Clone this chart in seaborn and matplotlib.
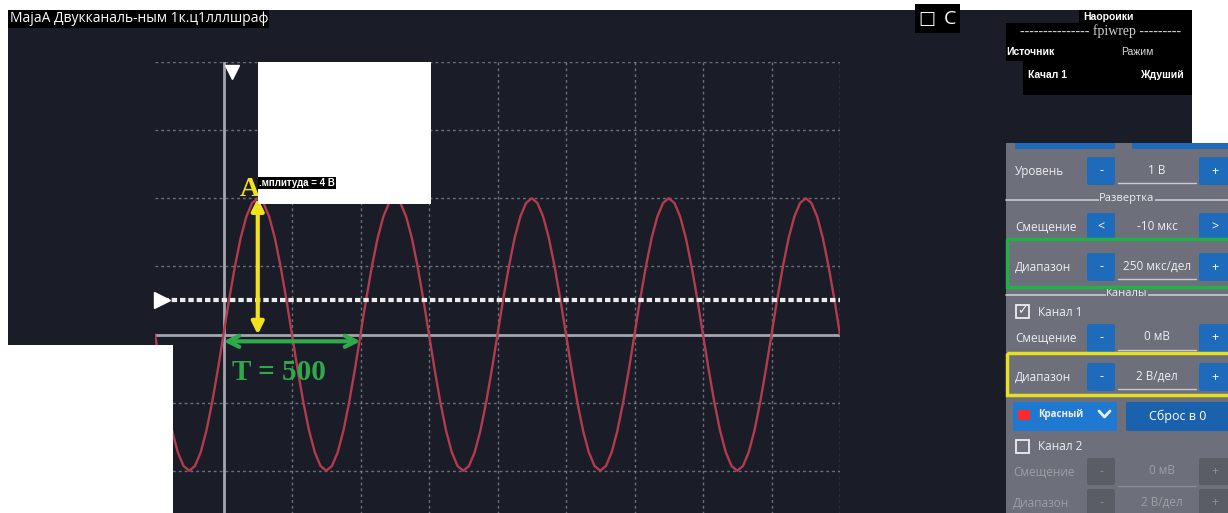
import numpy as np
import pandas as pd
import seaborn as sns
import matplotlib.pyplot as plt
from matplotlib.patches import Rectangle, FancyBboxPatch

W, H = 1228, 513

# channel 1 trace, one sample every 1/24 of a period, volts
samples_per_period = 24
trace_start_us = -250
ch1_volts = [
    0.0, -1.04, -2.0, -2.83, -3.46, -3.86, -4.0, -3.86, -3.46, -2.83, -2.0, -1.04,
    0.0, 1.04, 2.0, 2.83, 3.46, 3.86, 4.0, 3.86, 3.46, 2.83, 2.0, 1.04,
    0.0, -1.04, -2.0, -2.83, -3.46, -3.86, -4.0, -3.86, -3.46, -2.83, -2.0, -1.04,
    0.0, 1.04, 2.0, 2.83, 3.46, 3.86, 4.0, 3.86, 3.46, 2.83, 2.0, 1.04,
    0.0, -1.04, -2.0, -2.83, -3.46, -3.86, -4.0, -3.86, -3.46, -2.83, -2.0, -1.04,
    0.0, 1.04, 2.0, 2.83, 3.46, 3.86, 4.0, 3.86, 3.46, 2.83, 2.0, 1.04,
    0.0, -1.04, -2.0, -2.83, -3.46, -3.86, -4.0, -3.86, -3.46, -2.83, -2.0, -1.04,
    0.0, 1.04, 2.0, 2.83, 3.46, 3.86, 4.0, 3.86, 3.46, 2.83, 2.0, 1.04,
    0.0, -1.04, -2.0, -2.83, -3.46, -3.86, -4.0, -3.86, -3.46, -2.83, -2.0, -1.04,
    0.0, 1.04, 2.0, 2.83, 3.46, 3.86, 4.0, 3.86, 3.46, 2.83, 2.0, 1.04,
    0.0,
]

us_per_div = 250
volts_per_div = 2
trigger_level_v = 1
trigger_pos_us = 30
amplitude_v = 4
period_us = 500

title_text = "MajaA Двукканаль-ным 1к.ц1лллшраф"
amp_label = ".мплитуда = 4 В"
period_label = "T = 500"

# settings panel rows: label, left button, value, right button
panel_rows = [
    ("Уровень", "-", "1 В", "+"),
    ("Смещение", "<", "-10 мкс", ">"),
    ("Диапазон", "-", "250 мкс/дел", "+"),
    ("Смещение", "-", "0 мВ", "+"),
    ("Диапазон", "-", "2 В/дел", "+"),
]
disabled_rows = [
    ("Смещение", "-", "0 мВ", "+"),
    ("Диапазон", "-", "2 В/дел", "+"),
]

DARK = "#1a1d27"
PANEL = "#6d707a"
BLUE = "#1f6bbb"
TXT = "#eceef2"

sns.set_style("dark")
plt.rcParams["font.family"] = ["Open Sans", "DejaVu Sans"]

fig = plt.figure(figsize=(W / 100, H / 100), dpi=100, facecolor="white")


def px_axes(z):
    ax = fig.add_axes([0, 0, 1, 1], zorder=z)
    ax.set_xlim(0, W)
    ax.set_ylim(H, 0)
    ax.set_axis_off()
    ax.patch.set_alpha(0)
    return ax


def box(ax, x0, y0, x1, y1, color, z=1, **kw):
    ax.add_patch(Rectangle((x0, y0), x1 - x0, y1 - y0, facecolor=color,
                           edgecolor="none", zorder=z, **kw))


def button(ax, x0, y0, x1, y1, color, text, tcolor="white", size=9, z=3):
    ax.add_patch(FancyBboxPatch((x0 + 2, y0 + 2), x1 - x0 - 4, y1 - y0 - 4,
                                boxstyle="round,pad=2", facecolor=color,
                                edgecolor="none", zorder=z))
    ax.text((x0 + x1) / 2, (y0 + y1) / 2, text, color=tcolor, fontsize=size,
            ha="center", va="center", zorder=z + 1)


# ---------- background layer
bg = px_axes(0)
box(bg, 8, 10, 1192, H, DARK)

# ---------- scope layer
left, right, top, bottom = 155, 840, 62, 607
scope = fig.add_axes([left / W, 1 - bottom / H, (right - left) / W, (bottom - top) / H],
                     zorder=1)
scope.patch.set_alpha(0)
xmin, xmax = -us_per_div, 9 * us_per_div
scope.set_xlim(xmin, xmax)
scope.set_ylim(-4 * volts_per_div, 4 * volts_per_div)

grid_kw = dict(color="#8a8d96", lw=1, ls=(0, (2, 2.2)), alpha=0.75, zorder=1)
for k in range(1, 10):
    scope.axvline(k * us_per_div, **grid_kw)
for k in [-3, -2, -1, 1, 2, 3, 4]:
    scope.axhline(k * volts_per_div, **grid_kw)
scope.axvline(0, color="#a4a6ad", lw=2, zorder=2)
scope.axhline(0, color="#a4a6ad", lw=2, zorder=2)

trace = pd.DataFrame({
    "time_us": trace_start_us + period_us / samples_per_period * np.arange(len(ch1_volts)),
    "volts": ch1_volts,
})
sns.lineplot(data=trace, x="time_us", y="volts", ax=scope, color="#b23b4d",
             lw=1.7, zorder=3)

scope.axhline(trigger_level_v, color="#ececec", lw=3, ls=(0, (1.3, 0.7)), zorder=4)
scope.plot([xmin + 25], [trigger_level_v], marker=">", ms=11, color="white",
           clip_on=False, zorder=5)
scope.plot([trigger_pos_us], [3.86 * volts_per_div], marker="v", ms=10,
           color="white", clip_on=False, zorder=5)

scope.annotate("", xy=(period_us / 4, amplitude_v), xytext=(period_us / 4, 0),
               arrowprops=dict(arrowstyle="<|-|>", color="#f2e21d", lw=3,
                               mutation_scale=18, shrinkA=0, shrinkB=0), zorder=6)
scope.text(period_us / 4 - 30, amplitude_v + 0.25, "A", color="#f2e21d",
           fontsize=20, fontweight="bold", family="Liberation Serif",
           ha="center", va="center", zorder=6)
scope.annotate("", xy=(period_us, -0.2), xytext=(0, -0.2),
               arrowprops=dict(arrowstyle="<->", color="#2faa4b", lw=3,
                               mutation_scale=20, shrinkA=0, shrinkB=0), zorder=6)
scope.text(204, -1.12, period_label, color="#2faa4b", fontsize=21,
           fontweight="bold", family="Liberation Serif", ha="center",
           va="center", zorder=6)
scope.set_xlabel("")
scope.set_ylabel("")
scope.set_axis_off()

# ---------- overlay layer
ov = px_axes(2)
box(ov, 0, 345, 173, H, "white")
box(ov, 258, 62, 431, 204, "white")
ov.text(259, 183, amp_label, color="white", fontsize=7, fontweight="bold",
        family="Liberation Sans", va="center", ha="left",
        bbox=dict(facecolor="black", edgecolor="none", pad=0.8))

# title bar and icons
box(ov, 8, 10, 269, 28, "black")
ov.text(10, 19, title_text, color="white", fontsize=10, va="center", ha="left")
box(ov, 915, 4, 960, 33, "black")
ov.text(927, 19, "□", color="white", fontsize=13, va="center", ha="center",
        family="DejaVu Sans")
ov.text(950, 19, "C", color="white", fontsize=14, va="center", ha="center")

# top-right corner is outside the screenshot
box(ov, 1192, 0, W, 143, "white")

# settings header boxes
box(ov, 1079, 10, 1192, 24, "black")
box(ov, 1006, 23, 1192, 61, "black")
box(ov, 1023, 60, 1192, 95, "black")
hdr = dict(color="white", fontsize=7.5, fontweight="bold",
           family="Liberation Sans", va="center")
ov.text(1108, 16.5, "Наороики", ha="center", **hdr)
ov.text(1100, 31, "-" * 15 + " fpiwrep " + "-" * 9, color="#d0d0d0",
        fontsize=10, family="Liberation Serif", ha="center", va="center")
ov.text(1006, 52, "Источник", ha="left", **hdr)
ov.text(1121, 52, "Ражим", color="#d8d8d8", fontsize=7.5,
        family="Liberation Sans", ha="left", va="center")
ov.text(1028, 75, "Качал 1", ha="left", **hdr)
ov.text(1140, 75, "Ждуший", ha="left", **hdr)

# settings panel
box(ov, 1006, 143, W, H, PANEL)
box(ov, 1015, 143, 1115, 149, BLUE, z=2)
box(ov, 1132, 143, W, 149, BLUE, z=2)

row_y = [171, 227, 267, 338, 377]
for (label, lb, value, rb), y in zip(panel_rows, row_y):
    ov.text(1015, y, label, color=TXT, fontsize=8.5, ha="left", va="center", zorder=4)
    button(ov, 1087, y - 14, 1115, y + 14, BLUE, lb)
    button(ov, 1199, y - 14, 1230, y + 14, BLUE, rb)
    ov.text(1157, y - 1, value, color=TXT, fontsize=8.5, ha="center",
            va="center", zorder=4)
    ov.plot([1118, 1196], [y + 12, y + 12], color="#c9cbd0", lw=1, zorder=4)

for y, name in [(200, "Развертка"), (295, "Каналы")]:
    ov.plot([1006, W], [y, y], color="#c9cbd0", lw=1.2, zorder=3)
    ov.text(1127, y - 1, name, color=TXT, fontsize=8, ha="center", va="center",
            zorder=4, bbox=dict(facecolor=PANEL, edgecolor="none", pad=0.5))

ov.add_patch(Rectangle((1007, 239), 230, 48, facecolor="none",
                       edgecolor="#22b04b", lw=2.5, zorder=5))
ov.add_patch(Rectangle((1007, 353), 230, 42, facecolor="none",
                       edgecolor="#e6e022", lw=2.5, zorder=5))

# channel 1 checkbox
ov.add_patch(Rectangle((1016, 305), 13, 13, facecolor="none",
                       edgecolor=TXT, lw=1.3, zorder=4))
ov.text(1022.5, 311, "✓", color=TXT, fontsize=9, ha="center", va="center",
        family="DejaVu Sans", zorder=5)
ov.text(1038, 312, "Канал 1", color=TXT, fontsize=8.5, ha="left", va="center")

# colour picker and reset
button(ov, 1013, 402, 1117, 431, "#1f79d0", "")
box(ov, 1018, 410, 1030, 420, "#ff2a2a", z=5)
ov.text(1038, 415, "Красный", color=TXT, fontsize=7, fontweight="bold",
        ha="left", va="center", zorder=5)
ov.plot([1099, 1104.5, 1110], [411, 417, 411], color=TXT, lw=2, zorder=5)
button(ov, 1126, 402, 1230, 431, "#1a62ae", "Сброс в 0", size=9)

# channel 2 (disabled)
ov.add_patch(Rectangle((1016, 440), 13, 13, facecolor="none",
                       edgecolor=TXT, lw=1.3, zorder=4))
ov.text(1038, 446, "Канал 2", color=TXT, fontsize=8.5, ha="left", va="center")
for (label, lb, value, rb), y in zip(disabled_rows, [472, 503]):
    ov.text(1013, y, label, color="#9c9fa6", fontsize=8.5, ha="left", va="center")
    button(ov, 1087, y - 14, 1115, y + 13, "#5a5d66", lb, tcolor="#8a8d94")
    button(ov, 1199, y - 14, 1230, y + 13, "#5a5d66", rb, tcolor="#8a8d94")
    ov.text(1162, y - 1, value, color="#9c9fa6", fontsize=8.5, ha="center",
            va="center", zorder=4)

ov.plot([1118, 1196], [486, 486], color="#8a8d94", lw=1, zorder=4)

fig.savefig("out.png", dpi=100, facecolor="white")
plt.close(fig)
